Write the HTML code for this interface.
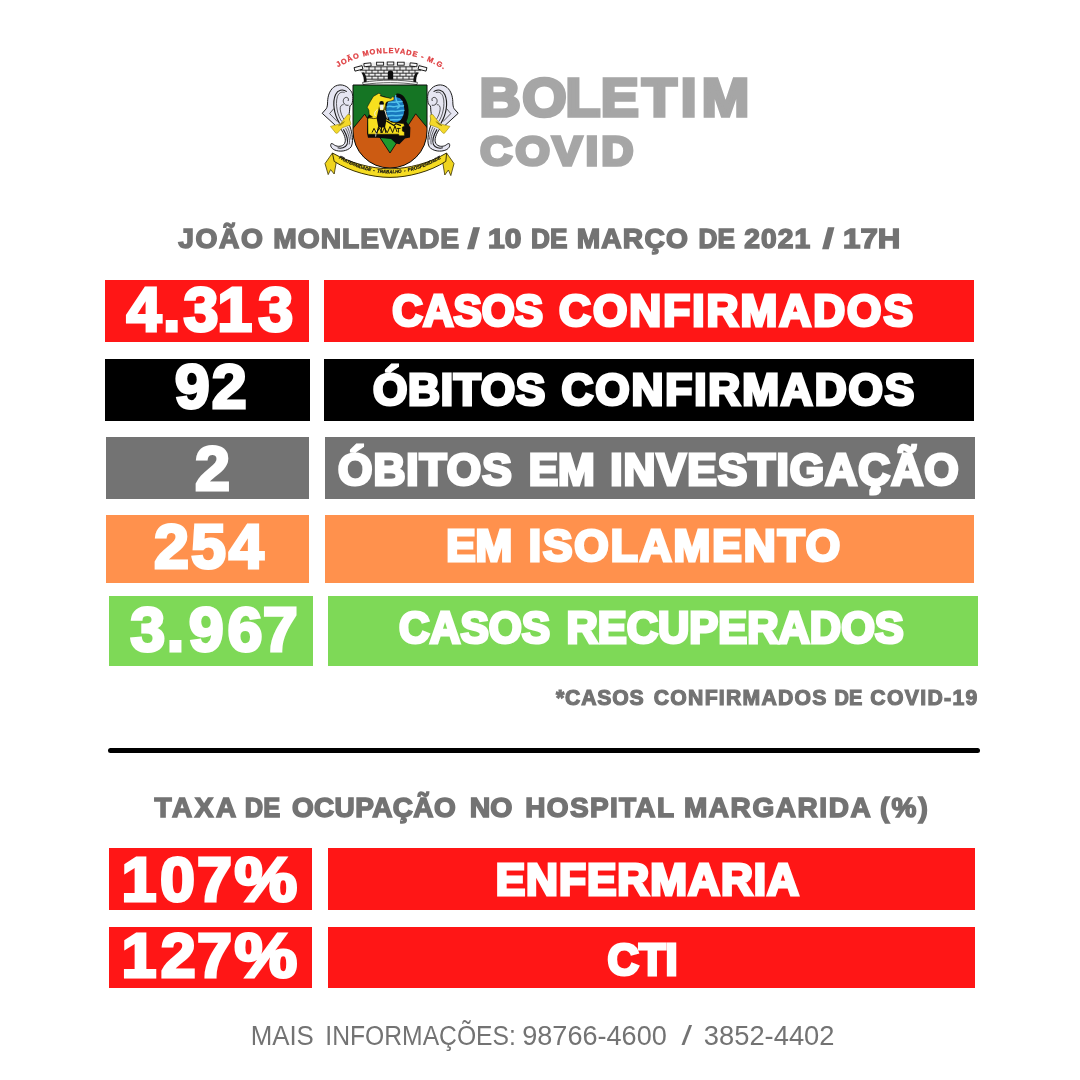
<!DOCTYPE html>
<html lang="pt-BR"><head><meta charset="utf-8"><title>Boletim COVID - João Monlevade</title>
<style>
html,body{margin:0;padding:0;background:#fff}
#page{position:relative;width:1080px;height:1080px;overflow:hidden;background:#fff}
.bx{position:absolute}
svg{position:absolute;left:0;top:0}
text{white-space:pre}
</style></head><body>
<div id="page">
<div class="bx" style="left:105px;top:279.8px;width:203.7px;height:62.0px;background:#ff1616"></div>
<div class="bx" style="left:324.3px;top:279.8px;width:650.2px;height:62.0px;background:#ff1616"></div>
<div class="bx" style="left:105px;top:358.5px;width:205px;height:62.19999999999999px;background:#000000"></div>
<div class="bx" style="left:324.3px;top:358.5px;width:650.2px;height:62.19999999999999px;background:#000000"></div>
<div class="bx" style="left:106px;top:436.5px;width:203.3px;height:62.30000000000001px;background:#737373"></div>
<div class="bx" style="left:325.2px;top:436.5px;width:649.9000000000001px;height:62.30000000000001px;background:#737373"></div>
<div class="bx" style="left:105.5px;top:515px;width:203.3px;height:67.5px;background:#ff914d"></div>
<div class="bx" style="left:324.7px;top:515px;width:649.5999999999999px;height:67.5px;background:#ff914d"></div>
<div class="bx" style="left:108.75px;top:596.3px;width:203.95px;height:69.5px;background:#7ed957"></div>
<div class="bx" style="left:327.7px;top:596.3px;width:650.3px;height:69.5px;background:#7ed957"></div>
<div class="bx" style="left:108.75px;top:848.2px;width:202.75px;height:61.39999999999998px;background:#ff1616"></div>
<div class="bx" style="left:328px;top:848.2px;width:646.5px;height:61.39999999999998px;background:#ff1616"></div>
<div class="bx" style="left:108.75px;top:927.2px;width:203.64999999999998px;height:61.299999999999955px;background:#ff1616"></div>
<div class="bx" style="left:328px;top:927.2px;width:646.5px;height:61.299999999999955px;background:#ff1616"></div>
<div class="bx" style="left:108px;top:747.9px;width:872px;height:5px;border-radius:2.5px;background:#000"></div>
<svg width="1080" height="1080" viewBox="0 0 1080 1080">
<g id="brasao">
<defs>
<path id="arcTop" d="M337.6,67.4 Q390.5,37.6 443.8,69.4" fill="none"/>
<path id="arcBot" d="M338.6,158.2 Q390,188.6 441.6,158.2" fill="none"/>
<clipPath id="shieldClip"><path d="M353,85 H427 V131 A37,37 0 0 1 353,131 Z"/></clipPath>
<g id="scroll">
<path d="M352.3,102.6 C353.4,96.5 352.6,92.4 350.4,90.4 C346.6,84.4 338.4,83.2 333.4,87.4 C329.2,91 327.8,96.6 327.6,101.6 C327.6,105 327.2,107.4 326.2,108.8 L322.2,113.3 L335.6,125.6 L340.8,129 C344.2,134 346.6,139.6 344.6,143.4 C342.6,146.8 337.6,147 334.6,145.2 C333.4,144.2 332.2,143.4 331.2,143.6 C329.8,145.6 331.4,148.4 334.2,149.8 C339.4,152.2 347.4,151.4 351.2,146.8 C353,143.4 352.6,138 352,134.6 C351.4,130.6 350.4,127.4 349.4,125 L349.2,113.4 C349.8,110.4 349.6,107.6 350,105.8 C350.8,105.6 351.8,104.6 352.3,102.6 Z" fill="#e6e6f2" stroke="#1c1c1c" stroke-width="1" stroke-linejoin="round"/>
<path d="M348.6,105.2 C346.4,105.8 344.4,104.6 343.6,102.6 C342.6,99.8 344.2,97.2 346.6,97.4 C348.4,97.6 349,99.6 348,101" fill="none" stroke="#1c1c1c" stroke-width="0.8"/>
<path d="M346.8,91.6 C342.6,88.6 337.8,90 335.6,94.4 C333.4,99.2 333.6,104.6 334.2,108.6 C334.8,113.6 337.2,119.4 339.6,123.6" fill="none" stroke="#1c1c1c" stroke-width="1.1"/>
<path d="M344.6,92.6 C341.2,91.2 338.6,93.2 337.4,96.6 C336,101 336.4,106 337.2,110 C338,114.4 339.6,118.4 341.6,121.4" fill="none" stroke="#1c1c1c" stroke-width="0.7"/>
<path d="M343.6,104.6 C341.2,104.4 340,106.6 340.2,109.2 C340.6,113 342.2,116.8 344.2,119.6" fill="none" stroke="#1c1c1c" stroke-width="0.7"/>
<path d="M333.8,108.6 L329.6,113.6 L337.4,121.6" fill="none" stroke="#1c1c1c" stroke-width="0.7"/>
<path d="M343.4,129.4 C346.4,134.4 348.6,140.4 347,144.6 C345.4,147.8 341,148.8 337.6,147.8" fill="none" stroke="#1c1c1c" stroke-width="1.1"/>
<path d="M345.6,128.2 C348.4,133.4 350.2,139.6 349.2,144.4" fill="none" stroke="#1c1c1c" stroke-width="0.7"/>
<path d="M347.4,126.8 C349.4,131 350.8,135.6 351,139.6" fill="none" stroke="#1c1c1c" stroke-width="0.6"/>
<path d="M330.4,126.4 L340.4,123.8 L347.6,114.6 C349.4,114.2 350.4,115 350.2,116.6 L349.6,119.4 L350.8,123.6 C350.8,125 350,125.6 348.8,125.4 L342.2,127.8 L337.4,133.2 C336.4,133.6 335.6,133.2 335.2,132.4 Z" fill="#f4d92a" stroke="#8a7a10" stroke-width="0.5" stroke-linejoin="round"/>
<path d="M338.4,125.8 L344.6,121.6" stroke="#6b5d0c" stroke-width="0.7" fill="none"/>
</g>
</defs>
<!-- arc caption -->
<text font-family="'Liberation Sans',sans-serif" font-weight="bold" font-size="7.4" fill="#dd3336" stroke="#dd3336" stroke-width="0.25" fill-opacity="0.92"><textPath href="#arcTop" startOffset="0" textLength="111.5" lengthAdjust="spacing">JOÃO MONLEVADE - M.G.</textPath></text>
<!-- mural crown -->
<g id="coroa">
<path d="M354,68.6 L362.6,62.8 L376.6,62.2 L390.5,62 L404.4,62.2 L418.4,62.8 L426.6,68.6 L419,72.6 C417,76 416.4,79.6 416.6,83.2 L363.4,83.2 C363.6,79.6 363,76 361,72.6 Z" fill="#ececec"/>
<path d="M361.4,72.4 C363.6,75.6 364.2,79.4 363.8,82.6 L366.6,82.6 C367,78.4 366,75 364,72.4 Z" fill="#111"/>
<path d="M418.6,72.4 C416.4,75.6 415.8,79.4 416.2,82.6 L413.4,82.6 C413,78.4 414,75 416,72.4 Z" fill="#111"/>
<g fill="#f6f6f6" stroke="#161616" stroke-width="0.9">
<rect x="354.4" y="66.6" width="8.2" height="3.6" transform="rotate(-14 358.5 68.4)"/>
<rect x="364" y="63.2" width="7" height="3.2" transform="rotate(-6 367.5 64.8)"/>
<rect x="376.6" y="62.2" width="7" height="3"/>
<rect x="387.2" y="62" width="6.6" height="3"/>
<rect x="397.4" y="62.2" width="6.8" height="3"/>
<rect x="410" y="63.2" width="7" height="3.2" transform="rotate(6 413.5 64.8)"/>
<rect x="418.4" y="66.6" width="8.2" height="3.6" transform="rotate(14 422.5 68.4)"/>
</g>
<g fill="none" stroke="#161616" stroke-width="0.85">
<path d="M360,70.2 H421"/><path d="M362.6,73.2 H418.4"/><path d="M364.6,76.2 H416.4"/><path d="M365.6,79.2 H415.4"/>
<path d="M366,66.8 H415"/>
<path d="M366,70.2 V73.2 M372,70.2 V73.2 M378,70.2 V73.2 M384,70.2 V73.2 M397,70.2 V73.2 M403,70.2 V73.2 M409,70.2 V73.2 M415,70.2 V73.2"/>
<path d="M369,73.2 V76.2 M375,73.2 V76.2 M381,73.2 V76.2 M400,73.2 V76.2 M406,73.2 V76.2 M412,73.2 V76.2"/>
<path d="M372,76.2 V79.2 M378,76.2 V79.2 M384,76.2 V79.2 M397,76.2 V79.2 M403,76.2 V79.2 M409,76.2 V79.2"/>
<path d="M369,66.8 V70.2 M375,66.8 V70.2 M381,66.8 V70.2 M387,66.8 V70.2 M394,66.8 V70.2 M400,66.8 V70.2 M406,66.8 V70.2 M412,66.8 V70.2"/>
</g>
<path d="M387.8,79.4 V73 C387.8,69.8 393.2,69.8 393.2,73 V79.4 Z" fill="#0a0a0a"/>
<path d="M362.6,82.4 C381,79.4 400,79.4 417.4,82.4 L417,84.6 C400,82 381,82 363,84.6 Z" fill="#fafafa" stroke="#222" stroke-width="0.7"/>
</g>
<!-- shield -->
<g clip-path="url(#shieldClip)">
<rect x="352" y="84" width="76" height="86" fill="#157524"/>
<path d="M372,125 L390,153 L408,125 Z" fill="#1f9a2e"/>
<path d="M352,129.6 L364.7,114.2 L390,153 L415.7,113.8 L428,128.6 V170 H352 Z" fill="#cc5b12" stroke="#0d0d0d" stroke-width="0.9" stroke-linejoin="miter"/>
</g>
<path d="M353,85 H427 V131 A37,37 0 0 1 353,131 Z" fill="none" stroke="#0d0d0d" stroke-width="1"/>
<!-- map shadow -->
<path d="M380.4,95.2 L394.4,99.6 L396.6,93.6 C402,92.6 406.6,98.6 408,105.6 C409.2,111.6 408.6,117.6 406.4,121.6 L410.4,127.6 L410,137.4 L405,138.6 L399.4,144.2 L396,143.4 L391,139 L378,137.8 L368,137.8 L367,133 L367,118 Z" fill="#0b0b0b"/>
<!-- blue oval -->
<ellipse cx="397.6" cy="109.4" rx="9.8" ry="13.6" fill="#0b0b0b"/>
<ellipse cx="395.3" cy="109.4" rx="9.1" ry="12.8" fill="#1878be"/>
<g fill="none" stroke="#52c2ec" stroke-width="1.5" stroke-linecap="round">
<path d="M388.8,102.4 C391,101.2 393,103 395.6,102 C398,101 400,102.4 402.2,101.4"/>
<path d="M387.2,106.8 C390,105.4 393,107.6 396,106.4 C399,105.2 401,106.8 403.4,105.8"/>
<path d="M387,111.6 C391,110.2 395,112.4 399,111 C401,110.4 402.6,110.8 403.8,110.4"/>
<path d="M387.8,116 C391,114.8 396,116.6 402.6,115"/>
<path d="M390,120 C392.6,119.2 396,120.4 400,119.2"/>
<path d="M395.8,95.8 C395.6,99.6 396.6,102.2 398.6,104 C400,105.4 399.4,107.6 397.4,108"/>
</g>
<path d="M396.4,96.4 C401,96.6 403.6,100 404.2,103" fill="none" stroke="#0b0b0b" stroke-width="1.6"/>
<!-- yellow map -->
<path d="M378.9,93.2 L380.9,94.3 L380.2,95.8 L383.9,96.9 L391.1,98.5 L392.2,96.8 L394,97.1 L394,99.8 L391.1,100.9 L386.7,102 L385.6,104 L385.4,118.4 L391.7,122.2 L403.9,123.8 L404.4,126.3 L402.3,127 L402.3,131 L404.4,131.9 L404.4,135.8 L399,135.8 L398.6,134.2 L368,134.2 L367.8,118.6 L372.6,117 L369.2,114.6 L368.9,110.2 L367.2,107.2 L370.6,101 L373.4,96.4 Z" fill="#f7e01e" stroke="#0b0b0b" stroke-width="0.5" stroke-linejoin="round"/>
<path d="M369.6,117.8 C372,119 375.6,118.8 378.4,117.6" stroke="#3a3205" stroke-width="0.8" fill="none"/>
<!-- worker figure -->
<g>
<circle cx="381.6" cy="103.4" r="2.3" fill="#0b0b0b"/>
<rect x="380.1" y="104.6" width="3.3" height="5.2" fill="#f4f4ea"/>
<path d="M379,106 L378.4,110 L376.6,118 L378.4,127.4 L385,127.4 L386.4,120 L384.6,110 L384.4,106 L383.4,110.2 L380,110.2 Z" fill="#0b0b0b"/>
<path d="M377.4,109.6 C375,111 374,113.6 375.4,116" stroke="#f4f4ea" stroke-width="1" fill="none"/>
<path d="M384.8,110 L387.4,118.6" stroke="#f4f4ea" stroke-width="0.9" fill="none"/>
<path d="M378.6,127 L376,136 M381.6,127 L381,133 M384.6,127 L386,133" stroke="#0b0b0b" stroke-width="1.1" fill="none"/>
<path d="M376.6,130 L375.6,136.6" stroke="#f4f4ea" stroke-width="0.8" fill="none"/>
<path d="M372,132.6 L374,128.4 L376.4,133 L379.4,128 L382,133 L384.4,127.8 L387.4,132.6 L390,126.6 L392.6,132.6 L395,126 L397,132" stroke="#0b0b0b" stroke-width="0.9" fill="none"/>
<path d="M386.4,121 L394,125.4 L396,123.6 L401,125.6" stroke="#0b0b0b" stroke-width="1.2" fill="none"/>
<path d="M398.4,128 V132.6 M396.6,128.4 H400.6" stroke="#0b0b0b" stroke-width="0.9" fill="none"/>
</g>
<!-- side scrolls -->
<use href="#scroll"/>
<use href="#scroll" transform="translate(780.4,0) scale(-1,1)"/>
<text font-family="'Liberation Sans',sans-serif" font-size="2.2" fill="#6b5d0c" transform="rotate(-34 341.4 124)" x="338.8" y="124.8">1935</text>
<text font-family="'Liberation Sans',sans-serif" font-size="2.2" fill="#6b5d0c" transform="rotate(34 439 124)" x="436.6" y="124.8">1964</text>
<!-- motto ribbon -->
<g id="faixa">
<path d="M332.4,153 L325,163.6 L328.2,174.6 L330.6,169.6 L334.2,174 L336.6,160.4 Z" fill="#efd41f" stroke="#3a3204" stroke-width="0.8" stroke-linejoin="round"/>
<path d="M446.6,153 L454,163.6 L450.8,175.6 L448.4,170 L444.8,175 L442.4,160.4 Z" fill="#efd41f" stroke="#3a3204" stroke-width="0.8" stroke-linejoin="round"/>
<path d="M332.4,153 C350,163 372,168.8 390,168.8 C408,168.8 430,163 446.6,153 L445.8,161.4 C430,171.6 408,177.4 390,177.4 C372,177.4 350,171.6 334.2,161.4 Z" fill="#f6dc22" stroke="#3a3204" stroke-width="1" stroke-linejoin="round"/>
<text font-family="'Liberation Sans',sans-serif" font-weight="bold" font-style="italic" font-size="4.7" fill="#111" stroke="#111" stroke-width="0.22"><textPath href="#arcBot" startOffset="0" textLength="108" lengthAdjust="spacingAndGlyphs">FRATERNIDADE  -  TRABALHO  -  PROSPERIDADE</textPath></text>
</g>
</g>
<text transform="scale(1.05,1)" y="116.20" font-family="'Liberation Sans',sans-serif" font-weight="bold" font-size="54.3" fill="#a6a6a6" stroke="#a6a6a6" stroke-width="3.6" stroke-linejoin="miter"><tspan x="456.59 497.38 538.54 572.23 611.55 648.42 668.44">BOLETIM</tspan></text>
<text transform="scale(1.07,1)" y="165.40" font-family="'Liberation Sans',sans-serif" font-weight="bold" font-size="41.2" fill="#a6a6a6" stroke="#a6a6a6" stroke-width="3.6" stroke-linejoin="miter"><tspan x="448.84 481.67 516.47 547.51 562.05">COVID</tspan></text>
<text y="331.40" font-family="'Liberation Sans',sans-serif" font-weight="bold" font-size="62.9" fill="#fff" stroke="#fff" stroke-width="3.0" stroke-linejoin="miter"><tspan x="126.48 162.99 183.47 217.15 258.22">4.313</tspan></text>
<text y="408.30" font-family="'Liberation Sans',sans-serif" font-weight="bold" font-size="62.9" fill="#fff" stroke="#fff" stroke-width="3.0" stroke-linejoin="miter"><tspan x="174.78 211.80">92</tspan></text>
<text y="490.40" font-family="'Liberation Sans',sans-serif" font-weight="bold" font-size="62.9" fill="#fff" stroke="#fff" stroke-width="3.0" stroke-linejoin="miter"><tspan x="194.90">2</tspan></text>
<text y="567.60" font-family="'Liberation Sans',sans-serif" font-weight="bold" font-size="62.9" fill="#fff" stroke="#fff" stroke-width="3.0" stroke-linejoin="miter"><tspan x="154.05 190.90 228.83">254</tspan></text>
<text y="651.30" font-family="'Liberation Sans',sans-serif" font-weight="bold" font-size="62.9" fill="#fff" stroke="#fff" stroke-width="3.0" stroke-linejoin="miter"><tspan x="130.27 166.67 188.68 227.51 262.70">3.967</tspan></text>
<text y="901.10" font-family="'Liberation Sans',sans-serif" font-weight="bold" font-size="62.9" fill="#fff" stroke="#fff" stroke-width="3.0" stroke-linejoin="miter"><tspan x="121.62 160.10 197.00">107</tspan><tspan x="234.61" textLength="62.71" lengthAdjust="spacingAndGlyphs">%</tspan></text>
<text y="976.90" font-family="'Liberation Sans',sans-serif" font-weight="bold" font-size="62.9" fill="#fff" stroke="#fff" stroke-width="3.0" stroke-linejoin="miter"><tspan x="121.62 160.75 197.00">127</tspan><tspan x="234.61" textLength="62.71" lengthAdjust="spacingAndGlyphs">%</tspan></text>
<text y="247.97" font-family="'Liberation Sans',sans-serif" font-weight="bold" font-size="28.19" fill="#737373" stroke="#737373" stroke-width="1.55" stroke-linejoin="miter"><tspan x="178.30" textLength="84.54" lengthAdjust="spacing">JOÃO</tspan> <tspan x="273.32" textLength="185.74" lengthAdjust="spacing">MONLEVADE</tspan> <tspan x="468.13" textLength="11.11" lengthAdjust="spacingAndGlyphs">/</tspan> <tspan x="487.97" textLength="33.40" lengthAdjust="spacingAndGlyphs">10</tspan> <tspan x="531.08" textLength="36.39" lengthAdjust="spacingAndGlyphs">DE</tspan> <tspan x="576.69" textLength="111.15" lengthAdjust="spacing">MARÇO</tspan> <tspan x="698.54" textLength="36.33" lengthAdjust="spacingAndGlyphs">DE</tspan> <tspan x="744.20" textLength="65.95" lengthAdjust="spacing">2021</tspan> <tspan x="823.08" textLength="10.58" lengthAdjust="spacingAndGlyphs">/</tspan> <tspan x="843.02" textLength="57.29" lengthAdjust="spacingAndGlyphs">17H</tspan></text>
<text y="326.45" font-family="'Liberation Sans',sans-serif" font-weight="bold" font-size="44.21" fill="#fff" stroke="#fff" stroke-width="3.09" stroke-linejoin="miter"><tspan x="392.32" textLength="150.77" lengthAdjust="spacingAndGlyphs">CASOS</tspan> <tspan x="559.03" textLength="353.87" lengthAdjust="spacing">CONFIRMADOS</tspan></text>
<text y="405.45" font-family="'Liberation Sans',sans-serif" font-weight="bold" font-size="44.21" fill="#fff" stroke="#fff" stroke-width="3.09" stroke-linejoin="miter"><tspan x="373.02" textLength="172.19" lengthAdjust="spacing">ÓBITOS</tspan> <tspan x="561.49" textLength="352.72" lengthAdjust="spacing">CONFIRMADOS</tspan></text>
<text y="484.85" font-family="'Liberation Sans',sans-serif" font-weight="bold" font-size="44.21" fill="#fff" stroke="#fff" stroke-width="3.09" stroke-linejoin="miter"><tspan x="338.02" textLength="173.61" lengthAdjust="spacing">ÓBITOS</tspan> <tspan x="528.65" textLength="66.11" lengthAdjust="spacingAndGlyphs">EM</tspan> <tspan x="610.25" textLength="348.40" lengthAdjust="spacing">INVESTIGAÇÃO</tspan></text>
<text y="560.86" font-family="'Liberation Sans',sans-serif" font-weight="bold" font-size="44.21" fill="#fff" stroke="#fff" stroke-width="3.09" stroke-linejoin="miter"><tspan x="446.23" textLength="66.09" lengthAdjust="spacingAndGlyphs">EM</tspan> <tspan x="528.64" textLength="311.60" lengthAdjust="spacing">ISOLAMENTO</tspan></text>
<text y="643.46" font-family="'Liberation Sans',sans-serif" font-weight="bold" font-size="44.21" fill="#fff" stroke="#fff" stroke-width="3.09" stroke-linejoin="miter"><tspan x="399.06" textLength="151.12" lengthAdjust="spacingAndGlyphs">CASOS</tspan> <tspan x="566.40" textLength="337.42" lengthAdjust="spacingAndGlyphs">RECUPERADOS</tspan></text>
<text y="704.81" font-family="'Liberation Sans',sans-serif" font-weight="bold" font-size="21.21" fill="#737373" stroke="#737373" stroke-width="1.17" stroke-linejoin="miter"><tspan x="556.05" textLength="87.65" lengthAdjust="spacing">*CASOS</tspan> <tspan x="653.76" textLength="172.77" lengthAdjust="spacing">CONFIRMADOS</tspan> <tspan x="834.56" textLength="27.78" lengthAdjust="spacingAndGlyphs">DE</tspan> <tspan x="870.28" textLength="107.07" lengthAdjust="spacing">COVID-19</tspan></text>
<text y="816.83" font-family="'Liberation Sans',sans-serif" font-weight="bold" font-size="27.99" fill="#737373" stroke="#737373" stroke-width="1.54" stroke-linejoin="miter"><tspan x="154.53" textLength="80.73" lengthAdjust="spacing">TAXA</tspan> <tspan x="244.82" textLength="35.40" lengthAdjust="spacingAndGlyphs">DE</tspan> <tspan x="291.88" textLength="163.81" lengthAdjust="spacing">OCUPAÇÃO</tspan> <tspan x="469.81" textLength="42.67" lengthAdjust="spacingAndGlyphs">NO</tspan> <tspan x="525.26" textLength="148.22" lengthAdjust="spacing">HOSPITAL</tspan> <tspan x="683.92" textLength="185.77" lengthAdjust="spacing">MARGARIDA</tspan> <tspan x="880.11" textLength="47.65" lengthAdjust="spacing">(%)</tspan></text>
<text y="895.46" font-family="'Liberation Sans',sans-serif" font-weight="bold" font-size="44.21" fill="#fff" stroke="#fff" stroke-width="3.09" stroke-linejoin="miter"><tspan x="495.64" textLength="303.35" lengthAdjust="spacing">ENFERMARIA</tspan></text>
<text y="975.46" font-family="'Liberation Sans',sans-serif" font-weight="bold" font-size="44.21" fill="#fff" stroke="#fff" stroke-width="3.09" stroke-linejoin="miter"><tspan x="607.50" textLength="70.21" lengthAdjust="spacingAndGlyphs">CTI</tspan></text>
<text y="1044.50" font-family="'Liberation Sans',sans-serif" font-weight="normal" font-size="26.81" fill="#737373"><tspan x="250.64" textLength="63.22" lengthAdjust="spacingAndGlyphs">MAIS</tspan> <tspan x="325.34" textLength="190.54" lengthAdjust="spacingAndGlyphs">INFORMAÇÕES:</tspan> <tspan x="522.21" textLength="144.58" lengthAdjust="spacingAndGlyphs">98766-4600</tspan> <tspan x="681.41" textLength="10.58" lengthAdjust="spacingAndGlyphs">/</tspan> <tspan x="703.83" textLength="130.68" lengthAdjust="spacingAndGlyphs">3852-4402</tspan></text>
</svg>
</div>
</body></html>
